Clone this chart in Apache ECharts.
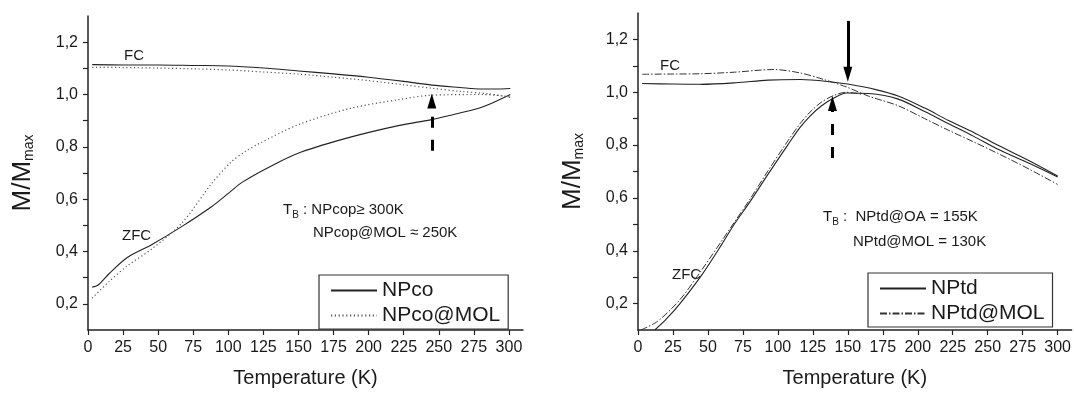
<!DOCTYPE html>
<html>
<head>
<meta charset="utf-8">
<script src="https://cdn.jsdelivr.net/npm/echarts@6/dist/echarts.min.js"></script>
<style>
  html, body { margin: 0; background: #fff; }
  #chart { width: 1074px; height: 393px; }
</style>
</head>
<body>
<div id="chart"></div>
<script>
// left panel: NPco vs NPco@MOL
const npcoFcT = [3, 25, 50, 75, 100, 125, 150, 175, 200, 225, 245, 265, 280, 290, 301];
const npcoFc = [1.114, 1.113, 1.113, 1.111, 1.109, 1.101, 1.090, 1.079, 1.066, 1.050, 1.036, 1.027, 1.021, 1.021, 1.023];
const npcoMolFcT = [3, 25, 50, 75, 100, 125, 150, 175, 200, 225, 245, 265, 285, 301];
const npcoMolFc = [1.104, 1.103, 1.101, 1.098, 1.094, 1.086, 1.078, 1.066, 1.053, 1.037, 1.024, 1.012, 1.003, 0.989];
const npcoZfcT = [3, 7, 15, 28, 45, 67, 88, 100, 110, 131, 152, 187, 222, 244, 265, 282, 301];
const npcoZfc = [0.264, 0.271, 0.315, 0.377, 0.425, 0.496, 0.571, 0.622, 0.665, 0.728, 0.780, 0.837, 0.882, 0.903, 0.929, 0.954, 1.000];
const npcoMolZfcT = [3, 15, 28, 45, 67, 88, 102, 112, 121, 150, 187, 222, 244, 282, 301];
const npcoMolZfc = [0.222, 0.285, 0.345, 0.408, 0.509, 0.659, 0.742, 0.782, 0.810, 0.885, 0.947, 0.981, 0.997, 1.000, 0.991];

// right panel: NPtd vs NPtd@MOL
const nptdFcT = [3, 25, 45, 70, 93, 116, 140, 151, 170, 186, 205, 222, 240, 257, 280, 300];
const nptdFc = [1.033, 1.031, 1.030, 1.036, 1.046, 1.048, 1.038, 1.030, 1.010, 0.986, 0.940, 0.893, 0.848, 0.800, 0.740, 0.683];
const nptdZfcT = [12, 20, 30, 45, 60, 69, 80, 93, 107, 116, 123, 131, 140, 149, 165, 186, 205, 222, 240, 257, 280, 300];
const nptdZfc = [0.100, 0.140, 0.200, 0.304, 0.425, 0.502, 0.585, 0.690, 0.800, 0.868, 0.910, 0.948, 0.978, 0.997, 0.995, 0.974, 0.927, 0.881, 0.833, 0.785, 0.730, 0.679];
const nptdMolFcT = [3, 25, 45, 69, 97, 116, 133, 149, 165, 186, 205, 222, 240, 257, 280, 300];
const nptdMolFc = [1.068, 1.069, 1.070, 1.076, 1.086, 1.073, 1.048, 1.020, 0.985, 0.949, 0.900, 0.856, 0.812, 0.769, 0.708, 0.651];
const nptdMolZfcT = [2, 14, 30, 45, 69, 80, 93, 107, 116, 123, 131, 140, 149, 160];
const nptdMolZfc = [0.100, 0.133, 0.215, 0.323, 0.509, 0.595, 0.703, 0.815, 0.882, 0.925, 0.962, 0.988, 1.000, 0.992];

const xTicks = [0, 25, 50, 75, 100, 125, 150, 175, 200, 225, 250, 275, 300];
const yTicks = [0.2, 0.3, 0.4, 0.5, 0.6, 0.7, 0.8, 0.9, 1.0, 1.1, 1.2];
const yLabels = [0.2, 0.4, 0.6, 0.8, 1.0, 1.2];

// T_B arrows: [T, from, to]
const arrowsLeft = [[245, 0.785, 0.975]];
const arrowsRightSolid = [[150, 1.27, 1.068]];
const arrowsRightDashed = [[139, 0.751, 0.957]];

const FONT = "Liberation Sans, Arial, sans-serif";
const INK = "#1a1a1a";

const zip = (xs, ys) => xs.map((x, i) => [x, ys[i]]);

function xAxis(idx) {
  return {
    gridIndex: idx,
    type: "value",
    min: 0,
    max: 310,
    name: "Temperature (K)",
    nameLocation: "middle",
    nameGap: 38,
    nameTextStyle: { color: INK, fontFamily: FONT, fontSize: 20 },
    axisLine: { lineStyle: { color: "#222", width: 1.5 } },
    axisTick: { customValues: xTicks, length: 5, lineStyle: { color: "#222", width: 1.2 } },
    axisLabel: { customValues: xTicks, color: INK, fontFamily: FONT, fontSize: 16, margin: 10 },
    splitLine: { show: false },
  };
}

function yAxis(idx) {
  return {
    gridIndex: idx,
    type: "value",
    min: 0.1,
    max: 1.3,
    name: "{m|M/M}{s|max}",
    nameLocation: "middle",
    nameGap: 52,
    nameTextStyle: {
      color: INK,
      fontFamily: FONT,
      rich: {
        m: { fontSize: 26, fontFamily: FONT, color: INK, verticalAlign: "bottom", lineHeight: 28 },
        s: { fontSize: 14, fontFamily: FONT, color: INK, verticalAlign: "bottom", lineHeight: 14 },
      },
    },
    axisLine: { lineStyle: { color: "#222", width: 1.5 } },
    axisTick: { customValues: yTicks, length: 5, lineStyle: { color: "#222", width: 1.2 } },
    axisLabel: {
      customValues: yLabels,
      color: INK,
      fontFamily: FONT,
      fontSize: 16,
      margin: 10,
      formatter: (v) => v.toFixed(1).replace(".", ","),
    },
    splitLine: { show: false },
  };
}

function curve(name, idx, data, style) {
  return {
    name,
    type: "line",
    xAxisIndex: idx,
    yAxisIndex: idx,
    data,
    symbol: "none",
    smooth: 0.3,
    clip: true,
    silent: true,
    lineStyle: Object.assign({ color: "#222", width: 1.1 }, style),
    itemStyle: { color: style.color || "#222" },
  };
}

function arrows(idx, list, dashed) {
  return {
    type: "line",
    xAxisIndex: idx,
    yAxisIndex: idx,
    data: [],
    silent: true,
    markLine: {
      silent: true,
      animation: false,
      symbol: ["none", "triangle"],
      symbolSize: [9, 15],
      label: { show: false },
      lineStyle: { color: "#000", width: 3, type: dashed ? [11, 12] : "solid" },
      itemStyle: { color: "#000" },
      data: list.map(([t, a, b]) => [{ coord: [t, a] }, { coord: [t, b] }]),
    },
  };
}

const solid = { type: "solid", color: "#222" };
const dotted = { type: [1.2, 2.6], color: "#555", width: 1.2 };
const dashDot = { type: [7, 2, 1.5, 2], color: "#333", width: 1 };

function legend(names, left, top) {
  return {
    show: true,
    data: names,
    left,
    top,
    orient: "vertical",
    borderColor: "#333",
    borderWidth: 1.2,
    backgroundColor: "#fff",
    padding: [5, 8, 3, 11],
    itemGap: 4,
    itemWidth: 46,
    itemHeight: 22,
    selectedMode: false,
    itemStyle: { opacity: 0 },
    textStyle: { color: INK, fontFamily: FONT, fontSize: 21 },
  };
}

function txt(x, y, text, size) {
  return {
    type: "text",
    x,
    y,
    silent: true,
    style: {
      text,
      fill: INK,
      font: `${size}px ${FONT}`,
      verticalAlign: "middle",
      rich: {
        t: { fontSize: size, fontFamily: FONT, fill: INK, verticalAlign: "middle" },
        b: { fontSize: 10, fontFamily: FONT, fill: INK, verticalAlign: "bottom", padding: [10, 0, 0, 0] },
        n: { fontSize: size, fontFamily: FONT, fill: INK },
      },
    },
  };
}

const chart = echarts.init(document.getElementById("chart"), null, { renderer: "canvas" });
chart.setOption({
  animation: false,
  backgroundColor: "#fff",
  grid: [
    { left: 88, top: 16, width: 435, height: 320 },
    { left: 638, top: 13, width: 436, height: 322 },
  ],
  xAxis: [xAxis(0), xAxis(1)],
  yAxis: [yAxis(0), yAxis(1)],
  legend: [legend(["NPco", "NPco@MOL"], 319, 275), legend(["NPtd", "NPtd@MOL"], 868, 273)],
  series: [
    curve("NPco", 0, zip(npcoFcT, npcoFc), solid),
    curve("NPco", 0, zip(npcoZfcT, npcoZfc), solid),
    curve("NPco@MOL", 0, zip(npcoMolFcT, npcoMolFc), dotted),
    curve("NPco@MOL", 0, zip(npcoMolZfcT, npcoMolZfc), dotted),
    curve("NPtd", 1, zip(nptdFcT, nptdFc), solid),
    curve("NPtd", 1, zip(nptdZfcT, nptdZfc), solid),
    curve("NPtd@MOL", 1, zip(nptdMolFcT, nptdMolFc), dashDot),
    curve("NPtd@MOL", 1, zip(nptdMolZfcT, nptdMolZfc), dashDot),
    arrows(0, arrowsLeft, true),
    arrows(1, arrowsRightSolid, false),
    arrows(1, arrowsRightDashed, true),
  ],
  graphic: [
    txt(124, 56, "FC", 15),
    txt(122, 236, "ZFC", 15),
    txt(660, 66, "FC", 15),
    txt(672, 275, "ZFC", 15),
    txt(283, 210, "{t|T}{b|B}{n| : NPcop≥ 300K}", 15),
    txt(313, 233, "NPcop@MOL ≈ 250K", 15),
    txt(823, 217, "{t|T}{b|B}{n| :  NPtd@OA = 155K}", 15),
    txt(853, 242, "NPtd@MOL = 130K", 15),
  ],
});
</script>
</body>
</html>
